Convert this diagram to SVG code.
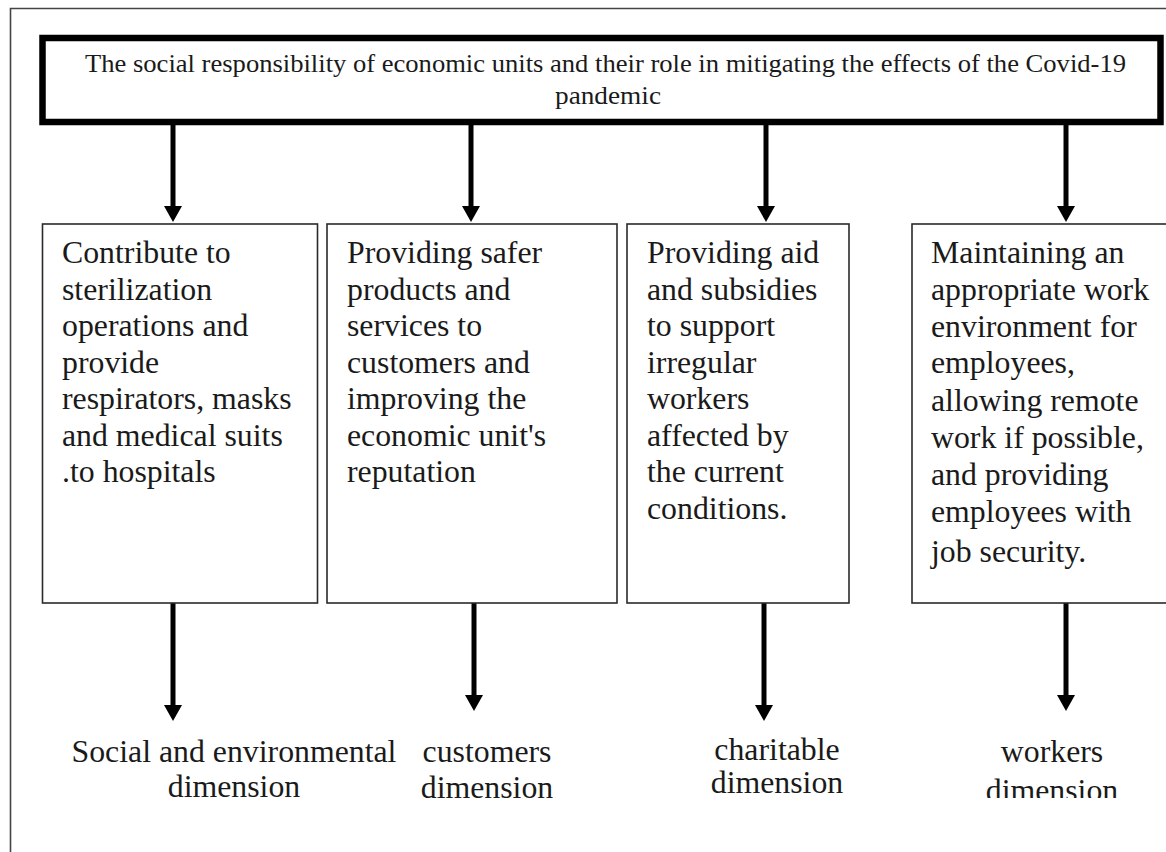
<svg xmlns="http://www.w3.org/2000/svg" width="1166" height="852" viewBox="0 0 1166 852">
  <defs>
    <marker id="head" viewBox="0 0 16 18" refX="6" refY="9" markerWidth="16" markerHeight="18" markerUnits="userSpaceOnUse" orient="auto">
      <path d="M0,0 L16,9 L0,18 Z" fill="#000"/>
    </marker>
    <clipPath id="cut-bottom">
      <rect x="0" y="0" width="1166" height="798"/>
    </clipPath>
  </defs>
  <style>
    .frame { fill: none; stroke: #444; stroke-width: 1.6; }
    .title-box { fill: #fff; stroke: #000; stroke-width: 6.5; }
    .box { fill: #fff; stroke: #2a2a2a; stroke-width: 1.6; }
    .arrow { stroke: #000; stroke-width: 5; fill: none; marker-end: url(#head); }
    text { font-family: "Liberation Serif", "Times New Roman", serif; fill: #1a1a1a; }
    .title { font-size: 26px; }
    .body { font-size: 31.8px; }
    .label { font-size: 31.8px; text-anchor: middle; }
  </style>

  <rect width="1166" height="852" fill="#fff"/>

  <!-- outer frame: left and top edges only -->
  <path class="frame" d="M10.5,852 V8.5 H1166"/>

  <!-- heading -->
  <g id="heading">
    <rect class="title-box" x="42.5" y="38" width="1118" height="84"/>
    <text class="title" x="85" y="72" textLength="1041" lengthAdjust="spacingAndGlyphs">The social responsibility of economic units and their role in mitigating the effects of the Covid-19</text>
    <text class="title" x="608" y="103.5" text-anchor="middle" textLength="106" lengthAdjust="spacingAndGlyphs">pandemic</text>
  </g>

  <!-- connectors -->
  <g id="connectors">
    <line class="arrow" x1="173" y1="125" x2="173" y2="212"/>
    <line class="arrow" x1="471" y1="125" x2="471" y2="212"/>
    <line class="arrow" x1="766" y1="125" x2="766" y2="212"/>
    <line class="arrow" x1="1066" y1="125" x2="1066" y2="212"/>
    <line class="arrow" x1="173" y1="603" x2="173" y2="711"/>
    <line class="arrow" x1="474" y1="603" x2="474" y2="701"/>
    <line class="arrow" x1="764" y1="603" x2="764" y2="711"/>
    <line class="arrow" x1="1066" y1="603" x2="1066" y2="701"/>
  </g>

  <!-- action boxes -->
  <g id="box-sterilization">
    <rect class="box" x="42.5" y="224" width="275" height="379"/>
    <text class="body">
      <tspan x="62" y="263">Contribute to</tspan>
      <tspan x="62" y="299.5">sterilization</tspan>
      <tspan x="62" y="336">operations and</tspan>
      <tspan x="62" y="372.5">provide</tspan>
      <tspan x="62" y="409">respirators,  masks</tspan>
      <tspan x="62" y="445.5">and medical suits</tspan>
      <tspan x="62" y="482">.to hospitals</tspan>
    </text>
  </g>

  <g id="box-customers">
    <rect class="box" x="327" y="224" width="290" height="379"/>
    <text class="body">
      <tspan x="347" y="263">Providing safer</tspan>
      <tspan x="347" y="299.5">products and</tspan>
      <tspan x="347" y="336">services to</tspan>
      <tspan x="347" y="372.5">customers and</tspan>
      <tspan x="347" y="409">improving the</tspan>
      <tspan x="347" y="445.5">economic unit's</tspan>
      <tspan x="347" y="482">reputation</tspan>
    </text>
  </g>

  <g id="box-charity">
    <rect class="box" x="627" y="224" width="222" height="379"/>
    <text class="body">
      <tspan x="647" y="263">Providing aid</tspan>
      <tspan x="647" y="299.5">and subsidies</tspan>
      <tspan x="647" y="336">to support</tspan>
      <tspan x="647" y="372.5">irregular</tspan>
      <tspan x="647" y="409">workers</tspan>
      <tspan x="647" y="445.5">affected by</tspan>
      <tspan x="647" y="482">the current</tspan>
      <tspan x="647" y="518.5">conditions.</tspan>
    </text>
  </g>

  <g id="box-workers">
    <rect class="box" x="912" y="224" width="270" height="379"/>
    <text class="body">
      <tspan x="931" y="263">Maintaining an</tspan>
      <tspan x="931" y="300">appropriate work</tspan>
      <tspan x="931" y="336.5">environment for</tspan>
      <tspan x="931" y="373">employees,</tspan>
      <tspan x="931" y="411">allowing remote</tspan>
      <tspan x="931" y="448">work if possible,</tspan>
      <tspan x="931" y="485">and providing</tspan>
      <tspan x="931" y="521.5">employees with</tspan>
      <tspan x="931" y="561.5">job security.</tspan>
    </text>
  </g>

  <!-- dimension labels -->
  <g id="label-social">
    <text class="label"><tspan x="234" y="761.5">Social and environmental</tspan><tspan x="234" y="796.5">dimension</tspan></text>
  </g>
  <g id="label-customers">
    <text class="label"><tspan x="487" y="761.5">customers</tspan><tspan x="487" y="798">dimension</tspan></text>
  </g>
  <g id="label-charitable">
    <text class="label"><tspan x="777" y="760">charitable</tspan><tspan x="777" y="793">dimension</tspan></text>
  </g>
  <g id="label-workers" clip-path="url(#cut-bottom)">
    <text class="label"><tspan x="1052" y="761.5">workers</tspan><tspan x="1052" y="800.5">dimension</tspan></text>
  </g>
</svg>
